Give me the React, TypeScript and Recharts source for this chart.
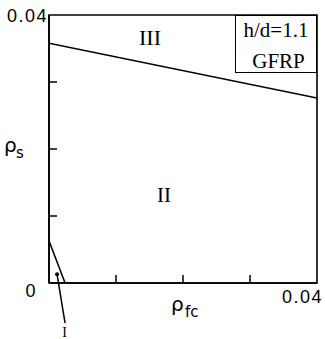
import React from 'react'
import { LineChart, Line, XAxis, YAxis, ReferenceArea, ReferenceLine, ReferenceDot } from 'recharts'

// axis ticks (reinforcement ratios)
const xTicks = [0, 0.01, 0.02, 0.03, 0.04]
const yTicks = [0, 0.01, 0.02, 0.03, 0.04]

// boundary between zone II and zone III
const upperRhoFc = [0, 0.04]
const upperRhoS = [0.0358, 0.0276]

// boundary between zone I and zone II
const lowerRhoFc = [0, 0.0024]
const lowerRhoS = [0.0063, 0]

const upper = upperRhoFc.map((x, i) => ({ x, y: upperRhoS[i] }))
const lower = lowerRhoFc.map((x, i) => ({ x, y: lowerRhoS[i] }))

const W = 325
const H = 339
const M = { top: 15, right: 8, bottom: 55, left: 48 }

const numFont = { fontFamily: '"Liberation Sans", Arial, sans-serif', fontSize: 18, letterSpacing: 1.5 }
const serif = '"Liberation Serif", "Times New Roman", serif'

const renderXTick = (props: any) => {
  const { x, y, payload } = props
  const v = payload.value
  return (
    <g key={`xt-${v}`}>
      {v > 0 && v < 0.04 && <line x1={x} x2={x} y1={y - 1} y2={y - 8} stroke="#000" strokeWidth={1.5} />}
      {v === 0.04 && (
        <text x={x + 6} y={y + 20} textAnchor="end" fill="#000" style={numFont}>0.04</text>
      )}
    </g>
  )
}

const renderYTick = (props: any) => {
  const { x, y, payload } = props
  const v = payload.value
  return (
    <g key={`yt-${v}`}>
      {v > 0 && v < 0.04 && <line x1={x} x2={x + 8} y1={y} y2={y} stroke="#000" strokeWidth={1.5} />}
      {v === 0.04 && (
        <text x={x - 1} y={y + 7} textAnchor="end" fill="#000" style={numFont}>0.04</text>
      )}
      {v === 0 && (
        <text x={x - 12} y={y + 14} textAnchor="end" fill="#000" style={numFont}>0</text>
      )}
    </g>
  )
}

export default function App() {
  return (
    <div style={{ position: 'absolute', left: 0, top: 0, width: W, height: H, background: '#fff' }}>
      <LineChart width={W} height={H} margin={M}>
        <XAxis
          type="number" dataKey="x" domain={[0, 0.04]} ticks={xTicks} height={1}
          tickSize={0} tickMargin={0} tickLine={false} interval={0}
          axisLine={{ stroke: '#000', strokeWidth: 1.6 }} tick={renderXTick}
          allowDataOverflow
        />
        <YAxis
          type="number" dataKey="y" domain={[0, 0.04]} ticks={yTicks} width={1}
          tickSize={0} tickMargin={0} tickLine={false} interval={0}
          axisLine={{ stroke: '#000', strokeWidth: 1.6 }} tick={renderYTick}
          allowDataOverflow
        />
        {/* outer frame */}
        <ReferenceArea x1={0} x2={0.04} y1={0} y2={0.04} fill="none" stroke="#000" strokeWidth={1.6} fillOpacity={0} />
        <Line data={upper} dataKey="y" stroke="#000" strokeWidth={1.5} dot={false} isAnimationActive={false} />
        <Line data={lower} dataKey="y" stroke="#000" strokeWidth={1.5} dot={false} isAnimationActive={false} />
        {/* pointer to zone I */}
        <ReferenceLine
          segment={[{ x: 0.0012, y: 0.0013 }, { x: 0.0024, y: -0.006 }]}
          stroke="#000" strokeWidth={1.5} ifOverflow="visible"
        />
        <ReferenceDot x={0.0012} y={0.0013} r={2} fill="#000" stroke="none" ifOverflow="visible" />
      </LineChart>

      {/* legend box */}
      <div style={{
        position: 'absolute', left: 235, top: 15, width: 82, height: 58,
        border: '1.5px solid #000', boxSizing: 'border-box', background: '#fff',
      }} />

      <svg width={W} height={H} style={{ position: 'absolute', left: 0, top: 0, pointerEvents: 'none' }}>
        <g fontFamily={serif} fill="#000" textAnchor="middle">
          <text x={150} y={45} fontSize={22}>III</text>
          <text x={164} y={202} fontSize={21}>II</text>
          <text x={64.5} y={337} fontSize={14}>I</text>
          <text x={276} y={37} fontSize={21}>h/d=1.1</text>
          <text x={278.5} y={68} fontSize={21}>GFRP</text>
        </g>
        <g fontFamily='"DejaVu Sans", sans-serif' fill="#000">
          <text x={4} y={152} fontSize={20}>ρ</text>
          <text x={16} y={158} fontSize={15}>s</text>
          <text x={171} y={311} fontSize={20}>ρ</text>
          <text x={185} y={317} fontSize={15}>fc</text>
        </g>
      </svg>
    </div>
  )
}
